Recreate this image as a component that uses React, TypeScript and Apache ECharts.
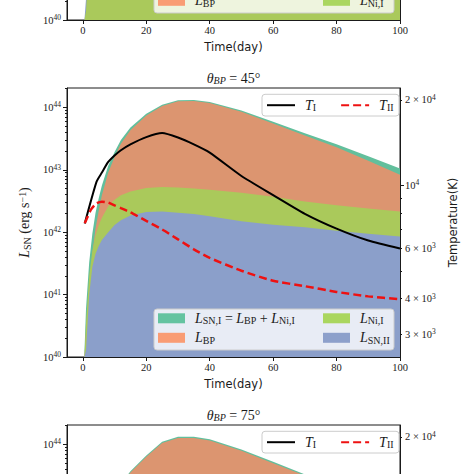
import React, { useEffect, useRef } from "react";
import * as echarts from "echarts";

// ---------- data ----------
const days = [0.5, 1, 2, 3, 4, 5, 6, 8, 10, 12, 15, 20, 25, 30, 35, 40, 50, 60, 70, 80, 90, 100];

// middle panel, theta_BP = 45 deg (erg/s)
const lSNI45 = [1.2e40, 6.0e40, 3.3e41, 9.5e41, 2.05e42, 3.5e42, 5.6e42, 1.16e43, 1.93e43, 3.0e43, 4.75e43, 7.9e43, 1.1e44, 1.3e44, 1.31e44, 1.22e44, 8.9e43, 5.9e43, 3.85e43, 2.57e43, 1.64e43, 1.05e43];
const lBP45 = [1.0e40, 2.5e40, 1.3e41, 4.5e41, 1.15e42, 2.2e42, 3.9e42, 9.0e42, 1.6e43, 2.6e43, 4.3e43, 7.4e43, 1.05e44, 1.25e44, 1.26e44, 1.17e44, 8.5e43, 5.5e43, 3.55e43, 2.3e43, 1.4e43, 8.3e42];
const lNiI45 = [1.0e40, 3.5e40, 2.0e41, 5.0e41, 9.0e41, 1.3e42, 1.7e42, 2.6e42, 3.3e42, 3.9e42, 4.5e42, 5.1e42, 5.3e42, 5.2e42, 5.0e42, 4.8e42, 4.3e42, 3.7e42, 3.1e42, 2.7e42, 2.4e42, 2.15e42];
const lSNII45 = [1.0e40, 1.3e40, 1.0e41, 2.8e41, 4.5e41, 6.0e41, 7.5e41, 1.0e42, 1.3e42, 1.55e42, 1.85e42, 2.1e42, 2.15e42, 2.05e42, 1.95e42, 1.8e42, 1.5e42, 1.32e42, 1.2e42, 1.05e42, 9.4e41, 8.5e41];

const tIDays45 = [0.6, 4.3, 6, 8, 10, 12, 15, 20, 25, 30, 35, 40, 50, 60, 70, 80, 90, 100];
const tI45 = [7350, 10300, 11100, 12100, 12750, 13300, 13950, 14800, 15300, 14750, 13950, 13050, 10800, 9250, 7950, 7050, 6400, 6000];
const tIIDays45 = [0.6, 2.5, 4.3, 6, 8, 10, 12, 15, 20, 25, 30, 35, 40, 50, 60, 70, 80, 90, 100];
const tII45 = [7360, 8200, 8650, 8770, 8710, 8510, 8320, 8040, 7500, 7000, 6460, 5960, 5560, 5010, 4620, 4420, 4220, 4070, 3980];

// bottom panel, theta_BP = 75 deg (erg/s)
const lSNI75 = [1.05e40, 3.4e40, 1.33e41, 4.2e41, 1.05e42, 2.1e42, 3.7e42, 8.3e42, 1.48e43, 2.35e43, 3.7e43, 6.6e43, 1.1e44, 1.32e44, 1.32e44, 1.21e44, 8.3e43, 5.25e43, 3.3e43, 2.1e43, 1.33e43, 8.3e42];
const lBP75 = [1.0e40, 3.2e40, 1.26e41, 4.0e41, 1.0e42, 2.0e42, 3.5e42, 7.9e42, 1.41e43, 2.24e43, 3.55e43, 6.3e43, 1.05e44, 1.26e44, 1.26e44, 1.15e44, 7.9e43, 5.0e43, 3.16e43, 2.0e43, 1.26e43, 7.9e42];

// top panel (only its lowest strip is visible)
const topDays = [0.5, 1, 2, 3, 5, 10, 20, 40, 60, 80, 100];
const lSNIITop = [1.0e40, 2.2e40, 8.0e40, 2.0e41, 6.0e41, 1.5e42, 2.0e42, 1.6e42, 1.2e42, 9.0e41, 8.0e41];
const lNiITop = [1.0e40, 1.4e40, 1.2e41, 3.0e41, 1.0e42, 3.0e42, 5.0e42, 5.0e42, 3.8e42, 2.8e42, 2.1e42];

// ticks / labels
const xTicks = [0, 20, 40, 60, 80, 100];
const lumDecades = [40, 41, 42, 43, 44];
const lumMinorMant = [2, 3, 4, 5, 6, 7, 8, 9];
const tempLabelValues = [3000, 4000, 6000, 10000, 20000];
const tempLabelMant = ["3 × 10", "4 × 10", "6 × 10", "10", "2 × 10"];
const tempLabelExp = ["3", "3", "3", "4", "4"];
const tempMinorValues = [3000, 4000, 5000, 6000, 7000, 8000, 9000, 20000];
const tempMajorValues = [10000];

// ---------- style ----------
const SERIF = "'Liberation Serif', 'DejaVu Serif', serif";
const SANS = "'DejaVu Sans', sans-serif";
const INK = "#1a1a1a";
const FILL = { sni: "#62bf9c", bp: "#dc9570", ni: "#aac95b", snii: "#8b9fca" };
const SWATCH = { sni: "#64c3a0", bp: "#f99c74", ni: "#aad65f", snii: "#8da0cb" };

const PANEL_TOPS = [-249, 88, 425];
const GL = 67, GW = 333, GH = 269;
const lg = Math.log10;
const L_MIN = 40, L_MAX = 44.31;
const T_MIN = lg(2490), T_MAX = lg(22030);

const tickRich = {
  m: { fontFamily: SERIF, fontSize: 10.5, lineHeight: 13, color: INK },
  p: { fontFamily: SERIF, fontSize: 7.5, lineHeight: 5, verticalAlign: "top", color: INK },
};
const mathRich = {
  L: { fontFamily: SERIF, fontStyle: "italic", fontWeight: "normal", fontSize: 14, lineHeight: 15, color: INK },
  s: { fontFamily: SERIF, fontWeight: "normal", fontSize: 10, lineHeight: 7, verticalAlign: "bottom", color: INK },
  r: { fontFamily: SERIF, fontWeight: "normal", fontSize: 14, lineHeight: 15, color: INK },
  p: { fontFamily: SERIF, fontWeight: "normal", fontSize: 10, lineHeight: 6, verticalAlign: "top", color: INK },
  g: { width: 5 },
};

const LEG_TEXT: Record<string, string> = {
  LSNI: "{g| }{L|L}{s|SN,I}{r| = }{L|L}{s|BP}{r| + }{L|L}{s|Ni,I}",
  LBP: "{g| }{L|L}{s|BP}",
  LNiI: "{g| }{L|L}{s|Ni,I}",
  LSNII: "{g| }{L|L}{s|SN,II}",
  TI: "{g| }{L|T}{s|I}",
  TII: "{g| }{L|T}{s|II}",
};

function area(name: string, xs: number[], ys: number[], color: string, xi: number, yi: number) {
  return {
    type: "line",
    name,
    xAxisIndex: xi,
    yAxisIndex: yi,
    data: xs.map((x, i) => [x, lg(ys[i])]),
    symbol: "none",
    lineStyle: { width: 0, color },
    itemStyle: { color },
    areaStyle: { color, opacity: 1, origin: "start" },
    silent: true,
    z: 2,
  };
}

function tline(name: string, xs: number[], ys: number[], color: string, width: number, type: any, xi: number, yi: number) {
  return {
    type: "line",
    name,
    xAxisIndex: xi,
    yAxisIndex: yi,
    data: xs.map((x, i) => [x, lg(ys[i])]),
    symbol: "none",
    smooth: 0.2,
    lineStyle: { width, color, type },
    itemStyle: { color },
    silent: true,
    z: 2,
  };
}

function tempLabelFormatter(v: number) {
  for (let i = 0; i < tempLabelValues.length; i++) {
    if (Math.abs(lg(tempLabelValues[i]) - v) < 1e-6) return `{m|${tempLabelMant[i]}}{p|${tempLabelExp[i]}}`;
  }
  return "";
}

function buildOption() {
  const grid: any[] = [];
  const xAxis: any[] = [];
  const yAxis: any[] = [];
  const series: any[] = [];
  const legend: any[] = [];
  const title: any[] = [];
  const graphic: any[] = [];

  const lumMinor: number[] = [];
  lumDecades.forEach((d) => lumMinorMant.forEach((m) => lumMinor.push(d + lg(m))));
  const axisLineStyle = { color: INK, width: 1 };

  const panelCfg = [
    { xLabels: true, lumLabels: [40], tempLabels: [] as number[], names: false },
    { xLabels: true, lumLabels: lumDecades, tempLabels: tempLabelValues, names: true },
    { xLabels: false, lumLabels: [44], tempLabels: [20000], names: false },
  ];

  PANEL_TOPS.forEach((pt, p) => {
    const cfg = panelCfg[p];
    grid.push({ left: GL, top: pt, width: GW, height: GH, show: true, borderColor: INK, borderWidth: 1, backgroundColor: "transparent", z: 0, containLabel: false, outerBoundsMode: "none" });
    grid.push({ left: GL, top: pt, width: GW, height: GH, show: false, containLabel: false, outerBoundsMode: "none" });

    xAxis.push({
      type: "value", gridIndex: 2 * p, min: -5, max: 100,
      axisLine: { show: true, onZero: false, lineStyle: axisLineStyle },
      axisTick: { show: true, customValues: xTicks, length: 4, lineStyle: axisLineStyle },
      axisLabel: { show: cfg.xLabels, customValues: xTicks, margin: 5, fontFamily: SERIF, fontSize: 10.5, color: INK },
      splitLine: { show: false },
      name: cfg.xLabels ? "Time(day)" : "",
      nameLocation: "middle", nameGap: 17,
      nameTextStyle: { fontFamily: SANS, fontSize: 11.5, color: INK },
      z: 6,
    });
    xAxis.push({ type: "value", gridIndex: 2 * p + 1, min: -5, max: 100, show: false });

    yAxis.push({
      type: "value", gridIndex: 2 * p, position: "left", min: L_MIN, max: L_MAX,
      axisLine: { show: true, onZero: false, lineStyle: axisLineStyle },
      axisTick: { show: true, customValues: lumDecades, length: 4, lineStyle: axisLineStyle },
      axisLabel: {
        show: true, customValues: cfg.lumLabels, margin: 6,
        formatter: (v: number) => `{m|10}{p|${Math.round(v)}}`,
        rich: tickRich,
      },
      splitLine: { show: false },
      name: cfg.names ? "{L|L}{s|SN}{r| (erg s}{p|−1}{r|)}" : "",
      nameLocation: "middle", nameGap: 28, nameRotate: 90,
      nameTextStyle: { rich: mathRich },
      z: 6,
    });
    yAxis.push({
      type: "value", gridIndex: 2 * p, position: "right", min: T_MIN, max: T_MAX,
      axisLine: { show: true, onZero: false, lineStyle: axisLineStyle },
      axisTick: { show: true, customValues: tempMajorValues.map(lg), length: 4, lineStyle: axisLineStyle },
      axisLabel: {
        show: cfg.tempLabels.length > 0, customValues: cfg.tempLabels.map(lg), margin: 5,
        formatter: tempLabelFormatter, rich: tickRich,
      },
      splitLine: { show: false },
      name: cfg.names ? "Temperature(K)" : "",
      nameLocation: "middle", nameGap: 40, nameRotate: 90,
      nameTextStyle: { fontFamily: SANS, fontSize: 11.5, color: INK },
      z: 6,
    });
    yAxis.push({
      type: "value", gridIndex: 2 * p + 1, position: "left", min: L_MIN, max: L_MAX,
      axisLine: { show: false, onZero: false },
      axisTick: { show: true, customValues: lumMinor, length: 2, lineStyle: axisLineStyle },
      axisLabel: { show: false }, splitLine: { show: false }, z: 6,
    });
    yAxis.push({
      type: "value", gridIndex: 2 * p + 1, position: "right", min: T_MIN, max: T_MAX,
      axisLine: { show: false, onZero: false },
      axisTick: { show: true, customValues: tempMinorValues.map(lg), length: 2, lineStyle: axisLineStyle },
      axisLabel: { show: false }, splitLine: { show: false }, z: 6,
    });
  });

  // top panel series (blue under green)
  series.push(area("LSNII", topDays, lSNIITop, FILL.snii, 0, 0));
  series.push(area("LNiI", topDays, lNiITop, FILL.ni, 0, 0));
  // middle panel
  series.push(area("LSNI", days, lSNI45, FILL.sni, 2, 4));
  series.push(area("LBP", days, lBP45, FILL.bp, 2, 4));
  series.push(area("LNiI", days, lNiI45, FILL.ni, 2, 4));
  series.push(area("LSNII", days, lSNII45, FILL.snii, 2, 4));
  series.push(tline("TI", tIDays45, tI45, "#000000", 2, "solid", 2, 5));
  series.push(tline("TII", tIIDays45, tII45, "#ee1111", 2.5, [8, 4], 2, 5));
  // bottom panel
  series.push(area("LSNI", days, lSNI75, FILL.sni, 4, 8));
  series.push(area("LBP", days, lBP75, FILL.bp, 4, 8));

  const fmt = (name: string) => LEG_TEXT[name] || name;
  const areaLegend = (left: number, top: number, items: [string, string][]) => ({
    orient: "vertical", left, top, padding: 0, itemWidth: 27, itemHeight: 10, itemGap: 5,
    icon: "rect", selectedMode: false, z: 5, formatter: fmt,
    textStyle: { rich: mathRich },
    data: items.map(([n, c]) => ({ name: n, itemStyle: { color: c, borderWidth: 0 } })),
  });
  const hiddenSymbol = { color: "rgba(0,0,0,0)", borderWidth: 0, opacity: 0 };
  const tLegend = (top: number) => ({
    orient: "horizontal", left: 266, top, padding: 0, itemWidth: 28, itemHeight: 14, itemGap: 24,
    selectedMode: false, z: 5, formatter: fmt, textStyle: { rich: mathRich },
    data: [{ name: "TI", itemStyle: hiddenSymbol }, { name: "TII", itemStyle: hiddenSymbol }],
  });
  const areaBox = (pt: number) => ({
    type: "rect", z: 3, silent: true,
    shape: { x: 154, y: pt + 221, width: 240, height: 41, r: 3 },
    style: { fill: "rgba(255,255,255,0.8)", stroke: "#cccccc", lineWidth: 1 },
  });
  const tBox = (pt: number) => ({
    type: "rect", z: 3, silent: true,
    shape: { x: 262, y: pt + 6.3, width: 137, height: 21.7, r: 3 },
    style: { fill: "rgba(255,255,255,0.8)", stroke: "#cccccc", lineWidth: 1 },
  });

  // top panel legend (bottom row visible)
  graphic.push(areaBox(PANEL_TOPS[0]));
  legend.push(areaLegend(158, PANEL_TOPS[0] + 223.3, [["LSNI", SWATCH.sni], ["LBP", SWATCH.bp]]));
  legend.push(areaLegend(323, PANEL_TOPS[0] + 223.3, [["LSNII", SWATCH.snii], ["LNiI", SWATCH.ni]]));
  // middle panel legends
  graphic.push(areaBox(PANEL_TOPS[1]));
  graphic.push(tBox(PANEL_TOPS[1]));
  legend.push(areaLegend(158, PANEL_TOPS[1] + 223.3, [["LSNI", SWATCH.sni], ["LBP", SWATCH.bp]]));
  legend.push(areaLegend(323, PANEL_TOPS[1] + 223.3, [["LNiI", SWATCH.ni], ["LSNII", SWATCH.snii]]));
  legend.push(tLegend(PANEL_TOPS[1] + 10.2));
  // bottom panel legend
  graphic.push(tBox(PANEL_TOPS[2]));
  legend.push(tLegend(PANEL_TOPS[2] + 10.2));

  const titleRich = {
    t: { fontFamily: SERIF, fontStyle: "italic", fontWeight: "normal", fontSize: 14, lineHeight: 15, color: INK },
    s: { fontFamily: SERIF, fontStyle: "italic", fontWeight: "normal", fontSize: 10, lineHeight: 7, verticalAlign: "bottom", color: INK },
    r: { fontFamily: SERIF, fontWeight: "normal", fontSize: 14, lineHeight: 15, color: INK },
  };
  const titleStyle = { fontWeight: "normal", rich: titleRich };
  title.push({ text: "{t|θ}{s|BP}{r| = 45°}", left: 233.5, top: PANEL_TOPS[1] - 10, textAlign: "center", textVerticalAlign: "middle", padding: 0, textStyle: titleStyle });
  title.push({ text: "{t|θ}{s|BP}{r| = 75°}", left: 233.5, top: PANEL_TOPS[2] - 10, textAlign: "center", textVerticalAlign: "middle", padding: 0, textStyle: titleStyle });

  return { animation: false, backgroundColor: "#ffffff", grid, xAxis, yAxis, series, legend, title, graphic };
}

export default function App() {
  const ref = useRef<HTMLDivElement>(null);
  useEffect(() => {
    document.body.style.margin = "0";
    const chart = echarts.init(ref.current as HTMLDivElement, null, { renderer: "svg" });
    chart.setOption(buildOption() as any);
    return () => chart.dispose();
  }, []);
  return <div ref={ref} style={{ width: 474, height: 474 }} />;
}
